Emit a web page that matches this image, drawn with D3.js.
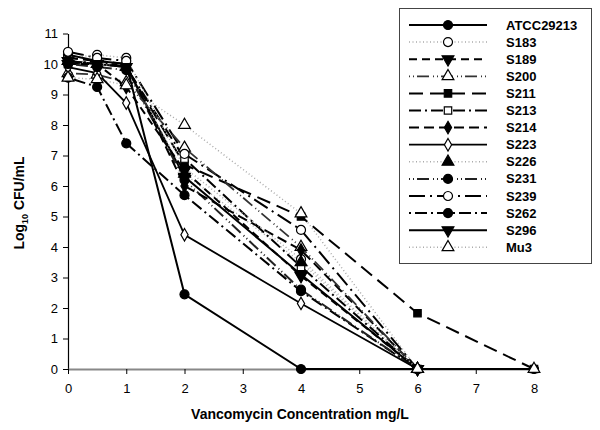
<!DOCTYPE html>
<html><head><meta charset="utf-8">
<script src="https://cdn.jsdelivr.net/npm/d3@7"></script>
<style>body{margin:0;background:#fff}svg{display:block}text{font-family:"Liberation Sans",Arial,sans-serif}</style>
</head><body>
<svg id="c" width="600" height="430"></svg>
<script>
const concentrations = [0, 0.5, 1, 2, 4, 6, 8];
const xTicks = [0,1,2,3,4,5,6,7,8];
const yTicks = [0,1,2,3,4,5,6,7,8,9,10,11];
const seriesNames = ["ATCC29213","S183","S189","S200","S211","S213","S214","S223","S226","S231","S239","S262","S296","Mu3"];
const ATCC29213 = [10.3, 10.1, 10.0, 2.45, 0, 0, 0];
const S183 = [10.2, 10.3, 10.2, 6.6, 3.6, 0];
const S189 = [10.0, 10.0, 9.25, 6.5, 3.05, 0];
const S200 = [9.7, 9.65, 9.4, 7.25, 4.0, 0];
const S211 = [10.1, 10.0, 9.9, 6.7, 5.0, 1.83, 0];
const S213 = [10.0, 10.1, 9.9, 6.9, 3.35, 0];
const S214 = [10.2, 10.1, 10.0, 6.0, 3.9, 0];
const S223 = [9.9, 9.7, 8.72, 4.4, 2.15, 0];
const S226 = [10.1, 10.0, 9.9, 6.4, 3.5, 0];
const S231 = [10.0, 9.9, 9.8, 6.2, 2.6, 0];
const S239 = [10.4, 10.2, 10.1, 7.05, 4.56, 0];
const S262 = [9.55, 9.25, 7.4, 5.7, 2.55, 0];
const S296 = [10.1, 10.0, 9.9, 6.3, 3.1, 0];
const Mu3 = [9.55, 9.5, 9.3, 8.0, 5.1, 0, 0];
const seriesValues = [ATCC29213,S183,S189,S200,S211,S213,S214,S223,S226,S231,S239,S262,S296,Mu3];

// styles (separate from data)
const styles = [
  {dash:null, col:"#000", w:2, sym:"circle", fill:"#000"},
  {dash:"1,2.5", col:"#aaa", w:1.5, sym:"circle", fill:"#fff"},
  {dash:"8,5", col:"#000", w:2, sym:"tridown", fill:"#000"},
  {dash:"1,3,1,3,12,4", col:"#333", w:1.8, sym:"triangle", fill:"#fff"},
  {dash:"14,7", col:"#000", w:2, sym:"square", fill:"#000"},
  {dash:"12,4,2,4", col:"#000", w:2, sym:"square", fill:"#fff"},
  {dash:"10,5", col:"#000", w:2, sym:"diamond", fill:"#000"},
  {dash:null, col:"#000", w:1.8, sym:"diamond", fill:"#fff"},
  {dash:"1,2.5", col:"#aaa", w:1.5, sym:"triangle", fill:"#000"},
  {dash:"1,3,1,3,12,4", col:"#222", w:2, sym:"circle", fill:"#000"},
  {dash:"16,5,2,5", col:"#000", w:2, sym:"circle", fill:"#fff"},
  {dash:"2,4,12,4", col:"#000", w:2, sym:"circle", fill:"#000"},
  {dash:null, col:"#000", w:2, sym:"tridown", fill:"#000"},
  {dash:"1,2.5", col:"#aaa", w:1.5, sym:"triangle", fill:"#fff"}
];

const svg = d3.select("#c");
const x = d3.scaleLinear().domain([0,8]).range([68,534]);
const y = d3.scaleLinear().domain([0,11]).range([369,33.5]);

// axes
const yAx = svg.append("g").attr("transform","translate(68,0)")
  .call(d3.axisLeft(y).tickValues(yTicks).tickSize(5).tickSizeOuter(0).tickPadding(5));
yAx.select(".domain").attr("stroke","#000").attr("stroke-width",1.2);
yAx.selectAll(".tick line").attr("stroke","#000");
yAx.selectAll("text").attr("font-size",13).attr("fill","#000");
const xAx = svg.append("g").attr("transform","translate(0,369)")
  .call(d3.axisBottom(x).tickValues(xTicks).tickSize(5).tickSizeOuter(0).tickPadding(10));
xAx.select(".domain").attr("stroke","#888").attr("stroke-width",2);
xAx.selectAll(".tick line").attr("stroke","#000");
xAx.selectAll("text").attr("font-size",13).attr("fill","#000");

function symPath(s){
  const map = {circle:[d3.symbolCircle,64], triangle:[d3.symbolTriangle,60], tridown:[d3.symbolTriangle,60], square:[d3.symbolSquare,55], diamond:[d3.symbolDiamond,45]};
  return d3.symbol().type(map[s][0]).size(map[s][1])();
}

const line = d3.line().x(d=>x(d[0])).y(d=>y(d[1]));
const order = d3.range(seriesNames.length);
order.slice().reverse().forEach(i=>{
  const st = styles[i];
  const pts = seriesValues[i].map((v,j)=>[concentrations[j], v]);
  svg.append("path").attr("d", line(pts)).attr("fill","none")
    .attr("stroke", st.col).attr("stroke-width", st.w)
    .attr("stroke-dasharray", st.dash);
});
order.forEach(i=>{
  const st = styles[i];
  const pts = seriesValues[i].map((v,j)=>[concentrations[j], v]);
  svg.append("g").selectAll("path").data(pts).join("path")
    .attr("d", symPath(st.sym))
    .attr("transform", d=>`translate(${x(d[0])},${y(d[1])})${st.sym==="tridown"?" rotate(180)":""}`)
    .attr("fill", st.fill).attr("stroke","#000").attr("stroke-width",1.2);
});

// axis titles
svg.append("text").attr("x",300).attr("y",419).attr("text-anchor","middle")
  .attr("font-size",14).attr("font-weight","bold").text("Vancomycin Concentration mg/L");
const yl = svg.append("text").attr("transform","translate(24,203) rotate(-90)")
  .attr("text-anchor","middle").attr("font-size",14).attr("font-weight","bold");
yl.append("tspan").text("Log");
yl.append("tspan").attr("font-size",9).attr("dy",4).text("10");
yl.append("tspan").attr("dy",-4).text(" CFU/mL");

// legend
svg.append("rect").attr("x",399.5).attr("y",8.5).attr("width",192).attr("height",255)
  .attr("fill","#fff").attr("stroke","#444").attr("stroke-width",1);
seriesNames.forEach((n,i)=>{
  const st = styles[i];
  const yy = 25 + i*17.1;
  svg.append("line").attr("x1",409).attr("x2",487).attr("y1",yy).attr("y2",yy)
    .attr("stroke",st.col).attr("stroke-width",st.w).attr("stroke-dasharray",st.dash);
  svg.append("path").attr("d",symPath(st.sym))
    .attr("transform",`translate(448,${yy})${st.sym==="tridown"?" rotate(180)":""}`)
    .attr("fill",st.fill).attr("stroke","#000").attr("stroke-width",1.2);
  svg.append("text").attr("x",506).attr("y",yy+4.5).attr("font-size",13).attr("font-weight","bold").text(n);
});
</script>
</body></html>
